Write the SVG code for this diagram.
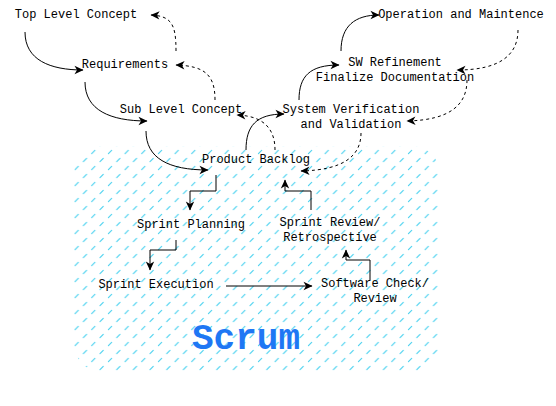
<svg xmlns="http://www.w3.org/2000/svg" width="556" height="406" viewBox="0 0 556 406">
<style>
text{font-family:"Liberation Mono","Courier New",monospace;font-size:12px;fill:#000;text-anchor:middle}
.c{fill:none;stroke:#000;stroke-width:1}
.d{stroke-dasharray:3 3}
.scrum{font-size:36px;font-weight:bold;fill:#1f77f4}
</style>
<defs>
<pattern id="hatch" patternUnits="userSpaceOnUse" x="106" y="148" width="16.67" height="16">
<path d="M2.4,5.6 L5.6,2.4 M10.73,13.6 L13.93,10.4" stroke="#4fd3f0" stroke-width="1.2" stroke-linecap="round"/>
</pattern>
<marker id="a" markerUnits="userSpaceOnUse" markerWidth="10" markerHeight="10" viewBox="0 0 10 10" refX="9" refY="5" orient="auto">
<path d="M0.5,0.8 L9.5,5 L0.5,9.2 L3,5 z" fill="#000"/>
</marker>
</defs>
<rect width="556" height="406" fill="#fff"/>
<g id="scrum-area">
<rect x="74" y="146" width="366" height="226" rx="28" fill="url(#hatch)"/>
<text class="scrum" x="246" y="349">Scrum</text>
</g>
<g id="connectors">
<path class="c" marker-end="url(#a)" d="M25,32 C25,60 50,70 83,70"/>
<path class="c d" marker-end="url(#a)" d="M176,51 C176,25 172,16 151,15"/>
<path class="c" marker-end="url(#a)" d="M85,82 C85,110 110,121 147,121"/>
<path class="c d" marker-end="url(#a)" d="M215,100 C215,75 205,66 176,65"/>
<path class="c" marker-end="url(#a)" d="M146,131 C146,158 168,170 208,170"/>
<path class="c d" marker-end="url(#a)" d="M275,150 C275,130 265,116 237,115"/>
<path class="c" marker-end="url(#a)" d="M246,150 C246,126 256,114 284,114"/>
<path class="c" marker-end="url(#a)" d="M299,100 C299,76 310,65 339,65"/>
<path class="c" marker-end="url(#a)" d="M341,51 C341,26 355,15 379,15"/>
<path class="c d" marker-end="url(#a)" d="M518,30 C518,55 500,70 457,70"/>
<path class="c d" marker-end="url(#a)" d="M467,80 C467,105 450,120 407,121"/>
<path class="c d" marker-end="url(#a)" d="M361,133 C361,155 345,170 301,171"/>
<path class="c" marker-end="url(#a)" d="M216,175 V191 H190 V210"/>
<path class="c" marker-end="url(#a)" d="M176,240 V250 H150 V270"/>
<path class="c" marker-end="url(#a)" d="M226,286 H312"/>
<path class="c" marker-end="url(#a)" d="M370,280 V260 H346 V250"/>
<path class="c" marker-end="url(#a)" d="M311,210 V191 H285 V180"/>
</g>
<g id="top-level-concept"><text x="76" y="18">Top Level Concept</text></g>
<g id="requirements"><text x="125" y="68">Requirements</text></g>
<g id="sub-level-concept"><text x="181" y="113">Sub Level Concept</text></g>
<g id="product-backlog"><text x="256" y="163">Product Backlog</text></g>
<g id="sprint-planning"><text x="191" y="228">Sprint Planning</text></g>
<g id="sprint-execution"><text x="156" y="288">Sprint Execution</text></g>
<g id="software-check"><text x="375" y="287">Software Check/</text><text x="375" y="302">Review</text></g>
<g id="sprint-review"><text x="330" y="226">Sprint Review/</text><text x="330" y="241">Retrospective</text></g>
<g id="system-verification"><text x="351" y="113">System Verification</text><text x="351" y="128">and Validation</text></g>
<g id="sw-refinement"><text x="395" y="66">SW Refinement</text><text x="395" y="81">Finalize Documentation</text></g>
<g id="operation"><text x="461" y="18">Operation and Maintence</text></g>
</svg>
